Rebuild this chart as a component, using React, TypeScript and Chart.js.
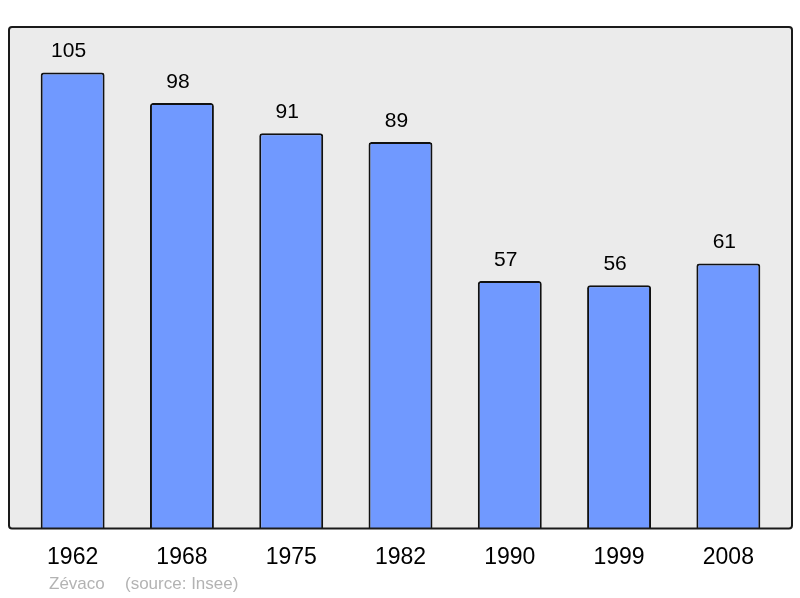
import { useEffect, useRef } from "react"
import { Chart, registerables } from "chart.js"

Chart.register(...registerables)

const years = ["1962", "1968", "1975", "1982", "1990", "1999", "2008"]
const population = [105, 98, 91, 89, 57, 56, 61]
const author = "Zévaco"
const source = "(source: Insee)"

const FONT = "'Liberation Sans', Arial, sans-serif"

// grey panel with a dark rounded frame, a bit wider than the chart area
const panelPlugin = {
  id: "panel",
  beforeDraw(chart: any) {
    const { ctx, chartArea } = chart
    const x = chartArea.left - 9
    const y = chartArea.top
    const w = chartArea.right - chartArea.left + 18
    const h = chartArea.bottom - chartArea.top
    ctx.save()
    ctx.beginPath()
    ctx.roundRect(x, y, w, h, 3)
    ctx.fillStyle = "#ebebeb"
    ctx.fill()
    ctx.restore()
  },
  afterDraw(chart: any) {
    const { ctx, chartArea } = chart
    const x = chartArea.left - 9
    const y = chartArea.top
    const w = chartArea.right - chartArea.left + 18
    const h = chartArea.bottom - chartArea.top
    ctx.save()
    ctx.beginPath()
    ctx.roundRect(x, y, w, h, 3)
    ctx.lineWidth = 2
    ctx.strokeStyle = "#1a1a1a"
    ctx.stroke()
    // footer
    ctx.fillStyle = "#b3b3b3"
    ctx.font = `17px ${FONT}`
    ctx.textBaseline = "middle"
    ctx.textAlign = "left"
    ctx.fillText(author, 49, 584)
    ctx.fillText(source, 125, 584)
    ctx.restore()
  },
}

// numbers above each bar (sit a touch left of centre, like the original)
const valueLabels = {
  id: "valueLabels",
  afterDatasetsDraw(chart: any) {
    const { ctx } = chart
    const meta = chart.getDatasetMeta(0)
    ctx.save()
    ctx.fillStyle = "#000"
    ctx.font = `21px ${FONT}`
    ctx.textAlign = "center"
    ctx.textBaseline = "middle"
    meta.data.forEach((bar: any, i: number) => {
      ctx.fillText(String(population[i]), bar.x - 4, bar.y - 21)
    })
    ctx.restore()
  },
}

export default function App() {
  const chartRef = useRef<HTMLCanvasElement>(null)
  const chartInstance = useRef<Chart | null>(null)

  useEffect(() => {
    if (!chartRef.current) return
    if (chartInstance.current) chartInstance.current.destroy()

    const ctx = chartRef.current.getContext("2d")
    if (!ctx) return

    chartInstance.current = new Chart(ctx, {
      type: "bar",
      data: {
        labels: years,
        datasets: [
          {
            data: population,
            backgroundColor: "#7099ff",
            borderColor: "#111",
            borderWidth: 2,
            borderRadius: 3,
            borderSkipped: "bottom",
            barPercentage: 0.585,
            categoryPercentage: 1,
          },
        ],
      },
      options: {
        animation: false,
        responsive: false,
        maintainAspectRatio: false,
        layout: { padding: { left: 18, right: 17, top: 27, bottom: 12 } },
        scales: {
          y: { display: false, min: 0, max: 115.5 },
          x: {
            grid: { display: false, drawTicks: false },
            border: { display: false },
            ticks: {
              color: "#000",
              padding: 15,
              font: { family: FONT, size: 23 },
            },
          },
        },
        plugins: {
          legend: { display: false },
          tooltip: { enabled: false },
        },
      },
      plugins: [panelPlugin, valueLabels],
    })

    return () => {
      if (chartInstance.current) {
        chartInstance.current.destroy()
        chartInstance.current = null
      }
    }
  }, [])

  return (
    <div style={{ position: "fixed", left: 0, top: 0, width: 800, height: 598, background: "#fff" }}>
      <canvas ref={chartRef} width={800} height={598} style={{ width: 800, height: 598 }} />
    </div>
  )
}
